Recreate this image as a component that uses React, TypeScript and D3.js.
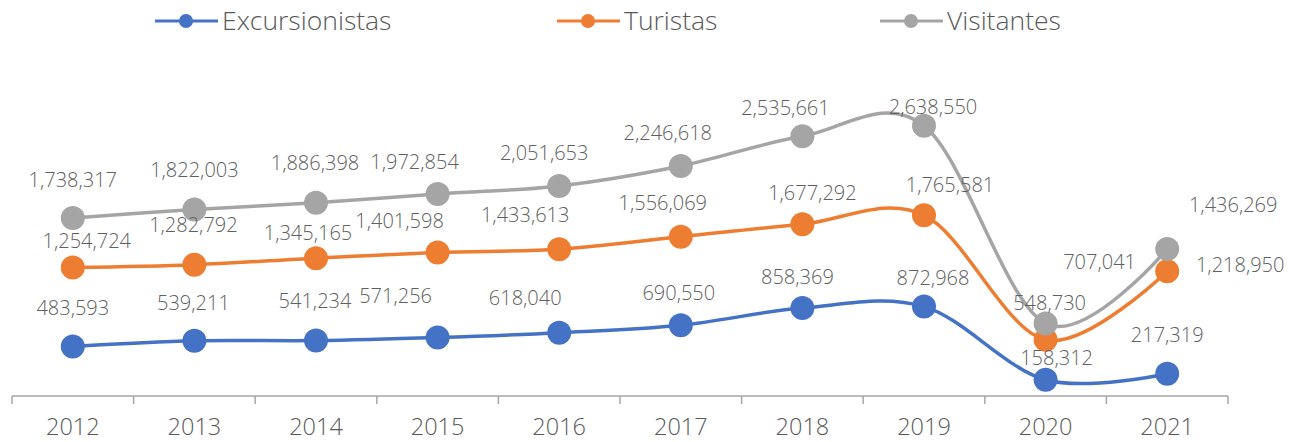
import React from "react";
import * as d3 from "d3";

const years = ["2012", "2013", "2014", "2015", "2016", "2017", "2018", "2019", "2020", "2021"];
const excursionistas = [483593, 539211, 541234, 571256, 618040, 690550, 858369, 872968, 158312, 217319];
const turistas = [1254724, 1282792, 1345165, 1401598, 1433613, 1556069, 1677292, 1765581, 548730, 1218950];
const visitantes = [1738317, 1822003, 1886398, 1972854, 2051653, 2246618, 2535661, 2638550, 707041, 1436269];

// label offsets (dx, dy of label centre relative to marker)
const offExc: [number, number][] = [[0, -38], [-1, -38], [-1, -40], [-42, -42], [-34, -35], [-2, -32], [-5, -31], [9, -29], [11, -22], [0, -39]];
const offTur: [number, number][] = [[14, -27], [-1, -40], [-8, -25], [-38, -31], [-34, -34], [-18, -34], [10, -31], [26, -30], [4, -37], [73, -6]];
const offVis: [number, number][] = [[0, -38], [0, -39], [-1, -40], [-23, -32], [-15, -33], [-13, -33], [-17, -28], [9, -19], [54, -62], [66, -44]];

const W = 1302;
const H = 442;
const FONT = "'Open Sans', 'Lato', sans-serif";

export default function App() {
  const x = d3.scaleBand<string>().domain(years).range([12, 1228]).padding(0);
  const y = d3.scaleLinear().domain([0, 3000000]).range([396, 396 - 307.2]);
  const cx = (i: number) => (x(years[i]) as number) + x.bandwidth() / 2;
  const fmt = d3.format(",");
  const line = d3
    .line<number>()
    .x((_, i) => cx(i))
    .y((v) => y(v))
    .curve(d3.curveCardinal.tension(0));

  const series = [
    { name: "Excursionistas", values: excursionistas, color: "#4472C4", off: offExc },
    { name: "Turistas", values: turistas, color: "#ED7D31", off: offTur },
    { name: "Visitantes", values: visitantes, color: "#A5A5A5", off: offVis },
  ];

  const legend = [
    { name: "Excursionistas", color: "#4472C4", x0: 155 },
    { name: "Turistas", color: "#ED7D31", x0: 557 },
    { name: "Visitantes", color: "#A5A5A5", x0: 880 },
  ];

  const axisColor = "#A6A6A6";
  const textColor = "#595959";

  return (
    <svg width={W} height={H} style={{ position: "absolute", left: 0, top: 0, background: "#fff" }} fontFamily={FONT}>
      {/* legend */}
      {legend.map((l) => (
        <g key={l.name}>
          <line x1={l.x0} x2={l.x0 + 63} y1={21} y2={21} stroke={l.color} strokeWidth={3} />
          <circle cx={l.x0 + 31} cy={21} r={7} fill={l.color} />
          <text x={l.x0 + 67} y={21} dy="0.35em" fontSize={26.5} fontWeight={300} fill={textColor}>
            {l.name}
          </text>
        </g>
      ))}

      {/* axis */}
      <line x1={12} x2={1228} y1={396} y2={396} stroke={axisColor} strokeWidth={1.5} />
      {years.map((yr) => (
        <line key={"t" + yr} x1={x(yr) as number} x2={x(yr) as number} y1={396} y2={404} stroke={axisColor} strokeWidth={1.5} />
      ))}
      <line x1={1228} x2={1228} y1={396} y2={404} stroke={axisColor} strokeWidth={1.5} />
      {years.map((yr, i) => (
        <text key={"l" + yr} x={cx(i)} y={427} dy="0.35em" textAnchor="middle" fontSize={23.5} fontWeight={300} fill={textColor}>
          {yr}
        </text>
      ))}

      {/* series */}
      {series.map((s) => (
        <g key={s.name}>
          <path d={line(s.values) as string} fill="none" stroke={s.color} strokeWidth={3.5} />
          {s.values.map((v, i) => (
            <circle key={i} cx={cx(i)} cy={y(v)} r={12} fill={s.color} />
          ))}
        </g>
      ))}

      {/* labels */}
      {series.map((s) =>
        s.values.map((v, i) => (
          <text
            key={s.name + i}
            x={cx(i) + s.off[i][0]}
            y={y(v) + s.off[i][1]}
            dy="0.35em"
            textAnchor="middle"
            fontSize={20}
            fontWeight={300}
            fill="#606060"
          >
            {fmt(v)}
          </text>
        ))
      )}
    </svg>
  );
}
